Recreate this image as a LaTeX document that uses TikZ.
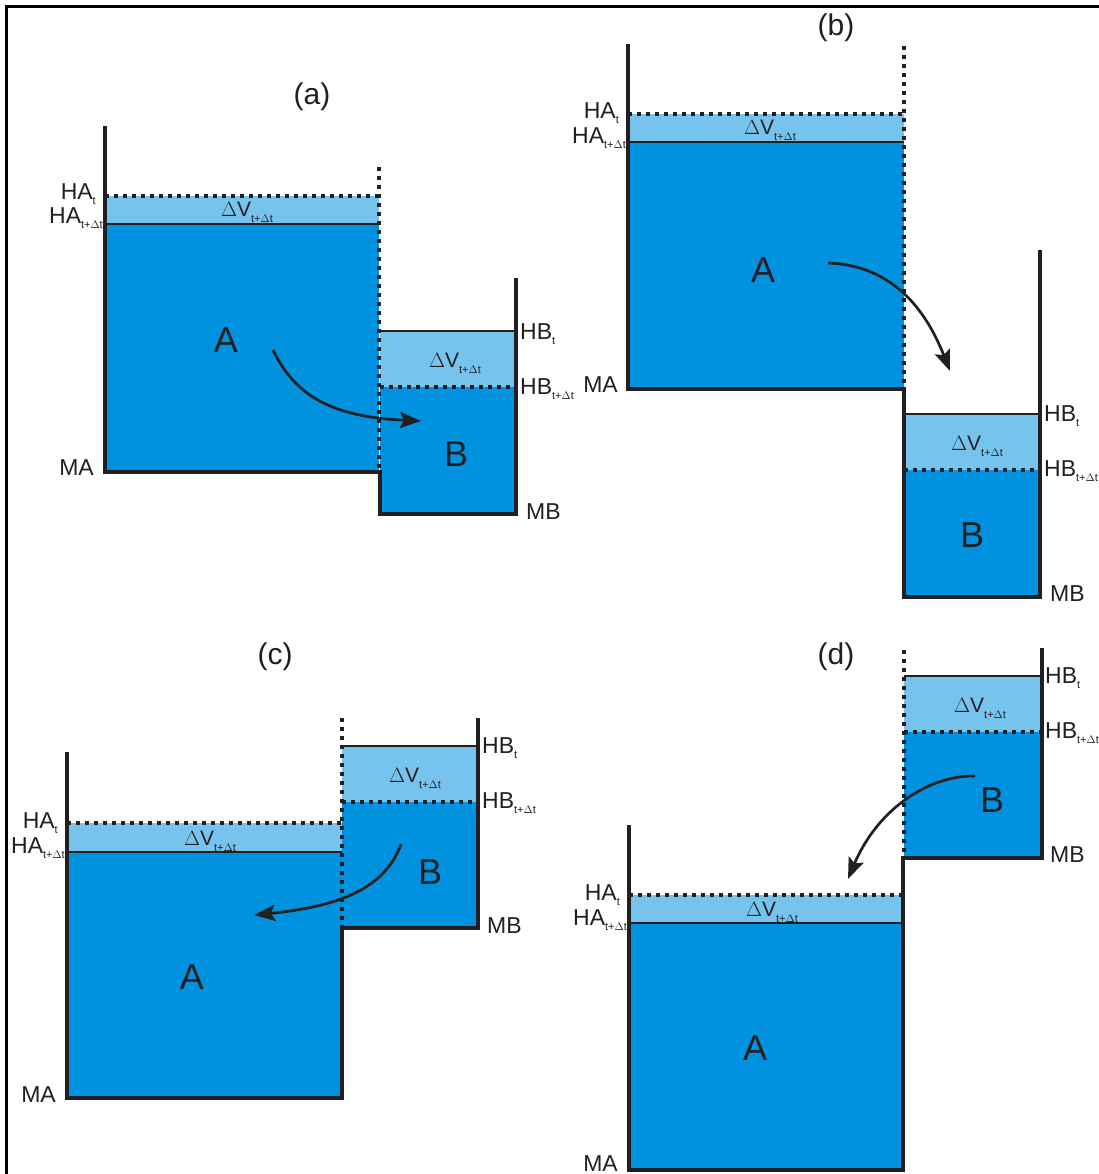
\documentclass[tikz,border=0pt]{standalone}
\usepackage{fontspec}
\setmainfont{Liberation Sans}
\usetikzlibrary{arrows.meta}
\definecolor{wdark}{RGB}{0,146,222}
\definecolor{wlight}{RGB}{118,195,238}
\definecolor{ink}{RGB}{35,31,32}
\newcommand\lsub[1]{\raisebox{-5pt}{\fontsize{11}{11}\selectfont #1}}
\newcommand\dsub[1]{\raisebox{-6pt}{\fontsize{11}{11}\selectfont #1}}
\newcommand\dV{$\Delta$V\dsub{t+$\Delta$t}}
\begin{document}
\begin{tikzpicture}[x=1pt,y=-1pt,
  wall/.style={line width=3.2pt, draw=ink, line join=miter},
  lvl/.style={line width=2.7pt, draw=ink},
  dotl/.style={line width=3.6pt, draw=ink, dash pattern=on 4pt off 5pt},
  lab/.style={font=\fontsize{23}{23}\selectfont, inner sep=0pt, text=ink},
  big/.style={font=\fontsize{36}{36}\selectfont, inner sep=0pt, text=ink},
  dv/.style={font=\fontsize{21}{21}\selectfont, inner sep=0pt, text=ink, anchor=base},
  ttl/.style={font=\fontsize{30}{30}\selectfont, inner sep=0pt, text=ink},
  arr/.style={line width=2.7pt, draw=ink, -{Stealth[length=21pt,width=16pt,inset=4pt]}}]
\useasboundingbox (0,0) rectangle (1099,1174);
\fill[white] (0,0) rectangle (1099,1174);
% frame
\draw[line width=3pt, draw=black] (6,1174) -- (6,7) -- (1099,7);

%%%%%%%% (a)
\fill[wlight] (105,196) rectangle (379,224);
\fill[wdark] (105,224) rectangle (379,472);
\fill[wlight] (380,331) rectangle (516,387);
\fill[wdark] (380,387) rectangle (516,514);
\draw[wall] (105,126) -- (105,472) -- (380,472) -- (380,514) -- (516,514) -- (516,278);
\draw[dotl] (379,167) -- (379,472);
\draw[lvl] (105,224) -- (379,224);
\draw[dotl] (105,196) -- (379,196);
\draw[lvl] (380,331) -- (516,331);
\draw[dotl] (380,387) -- (516,387);
\node[ttl] (a-t) at (312,97) {(a)};
\node[lab, anchor=base east] (a-hat) at (96,200) {HA\lsub{t}};
\node[lab, anchor=base east] (a-hadt) at (103,224) {HA\lsub{t+$\Delta$t}};
\node[lab, anchor=base east] (a-ma) at (94,475) {MA};
\node[lab, anchor=base west] (a-hbt) at (520,339) {HB\lsub{t}};
\node[lab, anchor=base west] (a-hbdt) at (520,394) {HB\lsub{t+$\Delta$t}};
\node[lab, anchor=base west] (a-mb) at (526,519) {MB};
\node[dv] (a-dva) at (247,217) {\dV};
\node[dv] (a-dvb) at (455,367) {\dV};
\node[big] (a-A) at (226,340) {A};
\node[big] (a-B) at (456,454) {B};
\coordinate (a-s) at (273,350);
\coordinate (a-e) at (421,421);
\draw[arr] (a-s) .. controls (296,398) and (335,417) .. (a-e);

%%%%%%%% (b)
\fill[wlight] (628,114) rectangle (904,142);
\fill[wdark] (628,142) rectangle (904,389);
\fill[wlight] (904,414) rectangle (1040,470);
\fill[wdark] (904,470) rectangle (1040,597);
\draw[wall] (628,44) -- (628,389) -- (904,389) -- (904,597) -- (1040,597) -- (1040,250);
\draw[dotl] (904,46) -- (904,389);
\draw[lvl] (628,142) -- (904,142);
\draw[dotl] (628,114) -- (904,114);
\draw[lvl] (904,414) -- (1040,414);
\draw[dotl] (904,470) -- (1040,470);
\node[ttl] (b-t) at (836,28) {(b)};
\node[lab, anchor=base east] (b-hat) at (619,119) {HA\lsub{t}};
\node[lab, anchor=base east] (b-hadt) at (626,144) {HA\lsub{t+$\Delta$t}};
\node[lab, anchor=base east] (b-ma) at (618,392) {MA};
\node[lab, anchor=base west] (b-hbt) at (1044,421) {HB\lsub{t}};
\node[lab, anchor=base west] (b-hbdt) at (1044,476) {HB\lsub{t+$\Delta$t}};
\node[lab, anchor=base west] (b-mb) at (1050,601) {MB};
\node[dv] (b-dva) at (770,135) {\dV};
\node[dv] (b-dvb) at (977,450) {\dV};
\node[big] (b-A) at (763,270) {A};
\node[big] (b-B) at (972,535) {B};
\coordinate (b-s) at (828,263);
\coordinate (b-e) at (950,371);
\draw[arr] (b-s) .. controls (885,265) and (922,300) .. (b-e);

%%%%%%%% (c)
\fill[wlight] (67,823) rectangle (342,852);
\fill[wdark] (67,852) rectangle (342,1098);
\fill[wlight] (342,746) rectangle (478,802);
\fill[wdark] (342,802) rectangle (478,928);
\draw[wall] (67,752) -- (67,1098) -- (342,1098) -- (342,928) -- (478,928) -- (478,718);
\draw[dotl] (342,718) -- (342,928);
\draw[lvl] (67,852) -- (342,852);
\draw[dotl] (67,823) -- (342,823);
\draw[lvl] (342,746) -- (478,746);
\draw[dotl] (342,802) -- (478,802);
\node[ttl] (c-t) at (275,657) {(c)};
\node[lab, anchor=base east] (c-hat) at (58,828) {HA\lsub{t}};
\node[lab, anchor=base east] (c-hadt) at (65,853) {HA\lsub{t+$\Delta$t}};
\node[lab, anchor=base east] (c-ma) at (56,1102) {MA};
\node[lab, anchor=base west] (c-hbt) at (482,753) {HB\lsub{t}};
\node[lab, anchor=base west] (c-hbdt) at (482,808) {HB\lsub{t+$\Delta$t}};
\node[lab, anchor=base west] (c-mb) at (487,933) {MB};
\node[dv] (c-dva) at (210,845) {\dV};
\node[dv] (c-dvb) at (415,782) {\dV};
\node[big] (c-A) at (192,977) {A};
\node[big] (c-B) at (430,872) {B};
\coordinate (c-s) at (401,844);
\coordinate (c-e) at (254,915);
\draw[arr] (c-s) .. controls (385,890) and (335,907) .. (c-e);

%%%%%%%% (d)
\fill[wlight] (629,895) rectangle (903,923);
\fill[wdark] (629,923) rectangle (903,1170);
\fill[wlight] (904,676) rectangle (1042,732);
\fill[wdark] (904,732) rectangle (1042,858);
\draw[wall] (629,825) -- (629,1170) -- (903,1170) -- (903,858) -- (1042,858) -- (1042,648);
\draw[dotl] (904,650) -- (904,858);
\draw[lvl] (629,923) -- (903,923);
\draw[dotl] (629,895) -- (903,895);
\draw[lvl] (904,676) -- (1042,676);
\draw[dotl] (904,732) -- (1042,732);
\node[ttl] (d-t) at (836,657) {(d)};
\node[lab, anchor=base east] (d-hat) at (620,900) {HA\lsub{t}};
\node[lab, anchor=base east] (d-hadt) at (627,925) {HA\lsub{t+$\Delta$t}};
\node[lab, anchor=base east] (d-ma) at (618,1171) {MA};
\node[lab, anchor=base west] (d-hbt) at (1045,683) {HB\lsub{t}};
\node[lab, anchor=base west] (d-hbdt) at (1045,738) {HB\lsub{t+$\Delta$t}};
\node[lab, anchor=base west] (d-mb) at (1050,862) {MB};
\node[dv] (d-dva) at (772,916) {\dV};
\node[dv] (d-dvb) at (980,712) {\dV};
\node[big] (d-A) at (755,1048) {A};
\node[big] (d-B) at (992,800) {B};
\coordinate (d-s) at (975,776);
\coordinate (d-e) at (848,879);
\draw[arr] (d-s) .. controls (930,775) and (878,808) .. (d-e);
\end{tikzpicture}
\end{document}
